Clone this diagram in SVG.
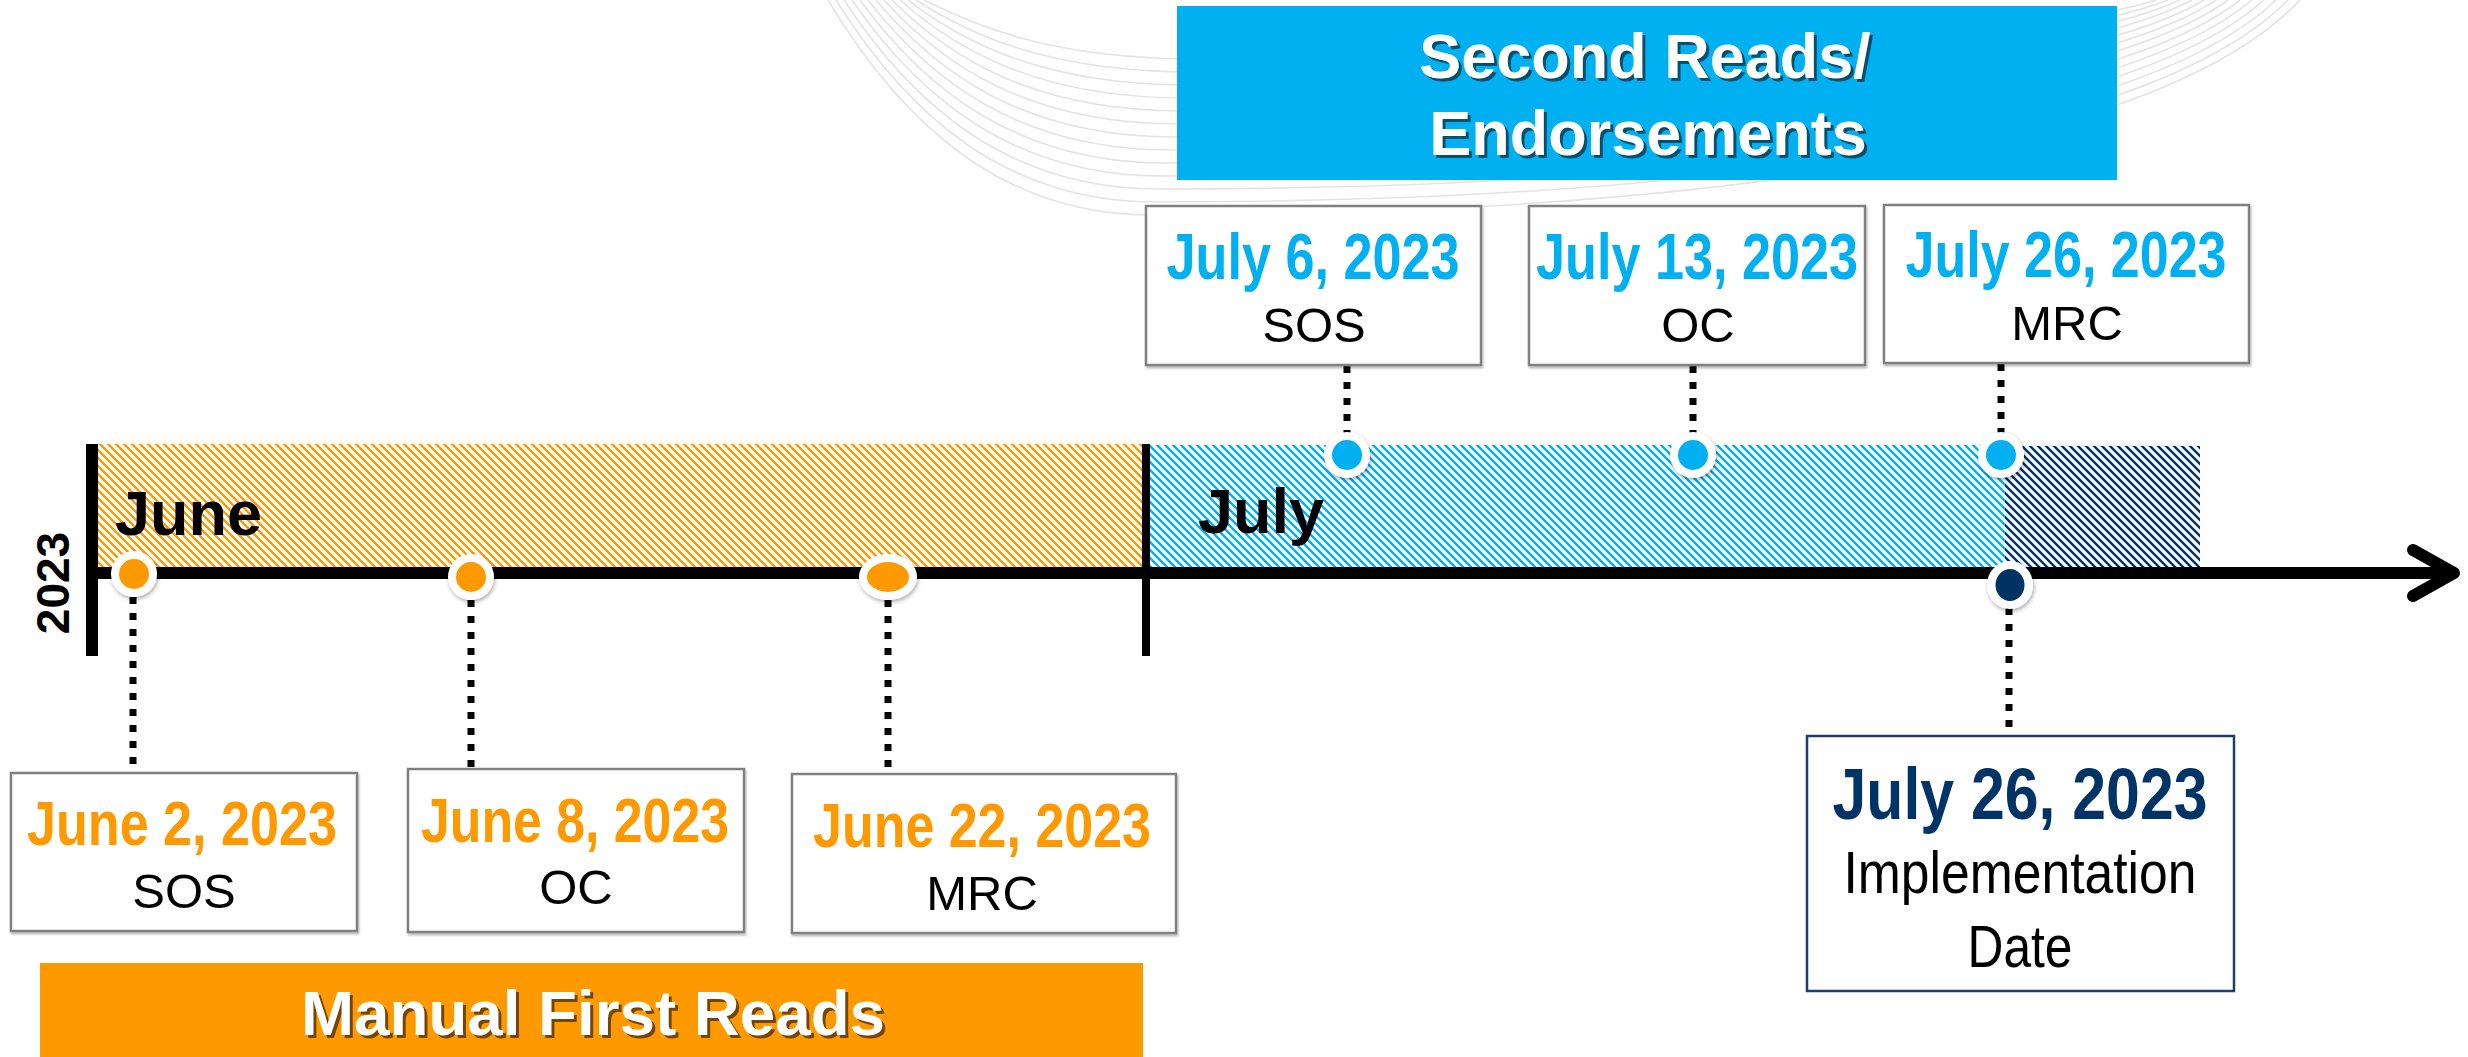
<svg xmlns="http://www.w3.org/2000/svg" width="2468" height="1057" viewBox="0 0 2468 1057">
<style>
.box{fill:#fff;stroke:#808080;stroke-width:2.5}
.nbox{fill:#fff;stroke:#1f3d6e;stroke-width:2.5}
.date{font-family:"Liberation Sans Narrow","Liberation Sans",Arial,sans-serif;font-weight:bold;text-anchor:middle}
.lbl{font-family:"Liberation Sans",Arial,sans-serif;font-size:49px;text-anchor:middle;fill:#000}
.ban{font-family:"Liberation Sans",Arial,sans-serif;font-weight:bold;font-size:63px;text-anchor:middle}
.mon{font-family:"Liberation Sans",Arial,sans-serif;font-weight:bold;font-size:63px;fill:#000}
.dot{stroke:#000;stroke-width:7;stroke-dasharray:7 9;fill:none}
.swoosh{fill:none;stroke:#e3e3e3;stroke-width:1.6}
.ring{fill:#fff}
</style>
<defs>
<pattern id="hO" patternUnits="userSpaceOnUse" width="8" height="8"><path d="M0,0 L8,8 M-1,7 L1,9 M7,-1 L9,1" stroke="#FF9900" stroke-width="2.4"/></pattern>
<pattern id="hB" patternUnits="userSpaceOnUse" width="8" height="8"><path d="M0,0 L8,8 M-1,7 L1,9 M7,-1 L9,1" stroke="#00B0F0" stroke-width="2.4"/></pattern>
<pattern id="hN" patternUnits="userSpaceOnUse" width="8" height="8"><path d="M0,0 L8,8 M-1,7 L1,9 M7,-1 L9,1" stroke="#003366" stroke-width="2.4"/></pattern>
<filter id="sh" x="-50%" y="-50%" width="200%" height="200%"><feDropShadow dx="1" dy="2" stdDeviation="2" flood-color="#000" flood-opacity="0.35"/></filter>
<filter id="bsh" x="-5%" y="-5%" width="110%" height="110%"><feDropShadow dx="1" dy="2" stdDeviation="1.2" flood-color="#000" flood-opacity="0.3"/></filter>
</defs>
<rect width="2468" height="1057" fill="#fff"/>

<g id="background-swoosh">
<path class="swoosh" d="M828,0 C900,120 1000,215 1150,215 C1650,215 2150,160 2300,0"/>
<path class="swoosh" d="M836,0 C906,112 1004,202 1154,202 C1650,202 2140,150 2288,0"/>
<path class="swoosh" d="M844,0 C912,104 1008,189 1158,189 C1650,189 2130,140 2276,0"/>
<path class="swoosh" d="M852,0 C918,96 1012,176 1162,176 C1650,176 2120,130 2264,0"/>
<path class="swoosh" d="M860,0 C924,88 1016,163 1166,163 C1650,163 2110,120 2252,0"/>
<path class="swoosh" d="M868,0 C930,80 1020,150 1170,150 C1650,150 2100,110 2240,0"/>
<path class="swoosh" d="M876,0 C936,72 1024,137 1174,137 C1650,137 2090,100 2228,0"/>
<path class="swoosh" d="M884,0 C942,64 1028,124 1178,124 C1650,124 2080,90 2216,0"/>
<path class="swoosh" d="M892,0 C948,56 1032,111 1182,111 C1650,111 2070,80 2204,0"/>
<path class="swoosh" d="M900,0 C954,48 1036,98 1186,98 C1650,98 2060,70 2192,0"/>
<path class="swoosh" d="M908,0 C960,40 1040,85 1190,85 C1650,85 2050,60 2180,0"/>
<path class="swoosh" d="M916,0 C966,32 1044,72 1194,72 C1650,72 2040,50 2168,0"/>
<path class="swoosh" d="M924,0 C972,24 1048,59 1198,59 C1650,59 2030,40 2156,0"/>
</g>

<g id="banner-second-reads">
<rect x="1177" y="6" width="940" height="174" fill="#00B0F0"/>
<text class="ban" x="1648" y="81" fill="#000" fill-opacity="0.55">Second Reads/</text>
<text class="ban" x="1645" y="78" fill="#fff">Second Reads/</text>
<text class="ban" x="1651" y="158" fill="#000" fill-opacity="0.55">Endorsements</text>
<text class="ban" x="1648" y="155" fill="#fff">Endorsements</text>
</g>

<g id="banner-first-reads">
<rect x="40" y="963" width="1103" height="94" fill="#FF9900"/>
<text class="ban" x="596" y="1038" textLength="584" lengthAdjust="spacingAndGlyphs" fill="#000" fill-opacity="0.55">Manual First Reads</text>
<text class="ban" x="593" y="1035" textLength="584" lengthAdjust="spacingAndGlyphs" fill="#fff">Manual First Reads</text>
</g>

<g id="timeline">
<rect x="98" y="444" width="1044" height="123" fill="url(#hO)"/>
<rect x="1150" y="445" width="855" height="122" fill="url(#hB)"/>
<rect x="2005" y="446" width="195" height="121" fill="url(#hN)"/>
<text class="mon" x="115" y="535">June</text>
<text class="mon" x="1198" y="533">July</text>
<text x="0" y="0" transform="translate(69,583) rotate(-90)" font-family="Liberation Sans, Arial, sans-serif" font-weight="bold" font-size="46" text-anchor="middle" fill="#000">2023</text>
<rect x="86" y="444" width="12" height="212" fill="#000"/>
<rect x="1142" y="444" width="8" height="212" fill="#000"/>
<line x1="86" y1="573" x2="2450" y2="573" stroke="#000" stroke-width="12"/>
<polyline points="2413,550 2454,573 2413,596" fill="none" stroke="#000" stroke-width="12" stroke-linecap="round" stroke-linejoin="round"/>
</g>

<g id="connectors">
<line class="dot" x1="133" y1="597" x2="133" y2="773"/>
<line class="dot" x1="471" y1="600" x2="471" y2="769"/>
<line class="dot" x1="888" y1="600" x2="888" y2="774"/>
<line class="dot" x1="1347" y1="366" x2="1347" y2="434"/>
<line class="dot" x1="1693" y1="366" x2="1693" y2="434"/>
<line class="dot" x1="2001" y1="364" x2="2001" y2="434"/>
<line class="dot" x1="2009" y1="608" x2="2009" y2="736"/>
</g>

<g id="marker-june2" filter="url(#sh)"><circle class="ring" cx="134" cy="574" r="23"/><circle cx="134" cy="574" r="15" fill="#FF9900"/></g>
<g id="marker-june8" filter="url(#sh)"><circle class="ring" cx="471" cy="577" r="23"/><circle cx="471" cy="577" r="15" fill="#FF9900"/></g>
<g id="marker-june22" filter="url(#sh)"><ellipse class="ring" cx="888" cy="577" rx="29" ry="23"/><ellipse cx="888" cy="577" rx="21" ry="15" fill="#FF9900"/></g>
<g id="marker-july6" filter="url(#sh)"><circle class="ring" cx="1347" cy="455" r="23"/><circle cx="1347" cy="455" r="15" fill="#00B0F0"/></g>
<g id="marker-july13" filter="url(#sh)"><circle class="ring" cx="1693" cy="455" r="23"/><circle cx="1693" cy="455" r="15" fill="#00B0F0"/></g>
<g id="marker-july26" filter="url(#sh)"><circle class="ring" cx="2001" cy="455" r="23"/><circle cx="2001" cy="455" r="15" fill="#00B0F0"/></g>
<g id="marker-impl" filter="url(#sh)"><ellipse class="ring" cx="2010" cy="585" rx="23" ry="24"/><ellipse cx="2010" cy="585" rx="14.5" ry="16" fill="#003366"/></g>

<g id="node-june2">
<rect class="box" x="11" y="773" width="346" height="158" filter="url(#bsh)"/>
<text class="date" x="182" y="845" font-size="63" fill="#FF9900" textLength="310" lengthAdjust="spacingAndGlyphs">June 2, 2023</text>
<text class="lbl" x="184" y="908">SOS</text>
</g>
<g id="node-june8">
<rect class="box" x="408" y="769" width="336" height="163" filter="url(#bsh)"/>
<text class="date" x="575" y="842" font-size="63" fill="#FF9900" textLength="308" lengthAdjust="spacingAndGlyphs">June 8, 2023</text>
<text class="lbl" x="576" y="904">OC</text>
</g>
<g id="node-june22">
<rect class="box" x="792" y="774" width="384" height="159" filter="url(#bsh)"/>
<text class="date" x="982" y="847" font-size="63" fill="#FF9900" textLength="338" lengthAdjust="spacingAndGlyphs">June 22, 2023</text>
<text class="lbl" x="982" y="910">MRC</text>
</g>
<g id="node-july6">
<rect class="box" x="1146" y="206" width="335" height="159" filter="url(#bsh)"/>
<text class="date" x="1313" y="279" font-size="64" fill="#00B0F0" textLength="293" lengthAdjust="spacingAndGlyphs">July 6, 2023</text>
<text class="lbl" x="1314" y="342">SOS</text>
</g>
<g id="node-july13">
<rect class="box" x="1529" y="206" width="336" height="159" filter="url(#bsh)"/>
<text class="date" x="1697" y="279" font-size="64" fill="#00B0F0" textLength="322" lengthAdjust="spacingAndGlyphs">July 13, 2023</text>
<text class="lbl" x="1698" y="342">OC</text>
</g>
<g id="node-july26">
<rect class="box" x="1884" y="205" width="365" height="158" filter="url(#bsh)"/>
<text class="date" x="2066" y="277" font-size="64" fill="#00B0F0" textLength="321" lengthAdjust="spacingAndGlyphs">July 26, 2023</text>
<text class="lbl" x="2067" y="340">MRC</text>
</g>
<g id="node-implementation">
<rect class="nbox" x="1807" y="736" width="427" height="255"/>
<text class="date" x="2020" y="819" font-size="73" fill="#003366" textLength="375" lengthAdjust="spacingAndGlyphs">July 26, 2023</text>
<text x="2020" y="893" font-family="Liberation Sans, Arial, sans-serif" font-size="60" text-anchor="middle" fill="#000" textLength="353" lengthAdjust="spacingAndGlyphs">Implementation</text>
<text x="2020" y="967" font-family="Liberation Sans, Arial, sans-serif" font-size="60" text-anchor="middle" fill="#000" textLength="105" lengthAdjust="spacingAndGlyphs">Date</text>
</g>
</svg>
